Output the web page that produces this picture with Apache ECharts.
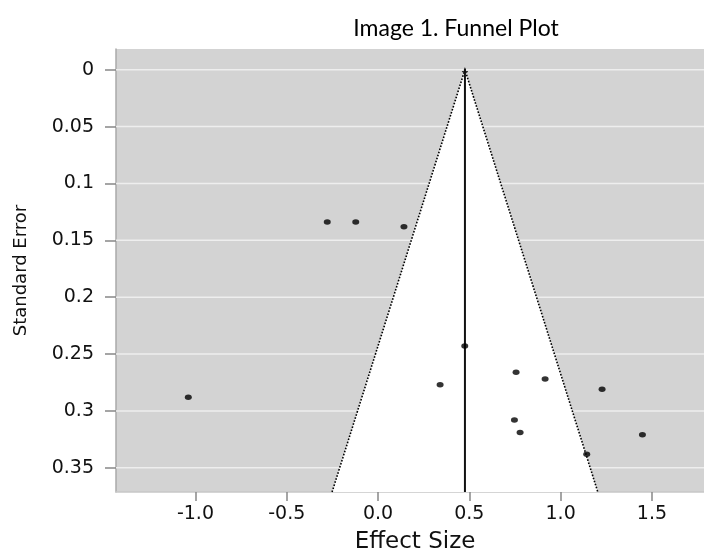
<!DOCTYPE html>
<html>
<head>
<meta charset="utf-8">
<title>Funnel Plot</title>
<script src="https://cdn.jsdelivr.net/npm/echarts@6/dist/echarts.min.js"></script>
<style>
  html, body { margin: 0; padding: 0; background: #fff; }
  #chart { width: 704px; height: 552px; }
</style>
</head>
<body>
<div id="chart"></div>
<script>
// one entry per study
var effectSize = [-0.278, -0.122, 0.142, 0.475, 0.340, 0.756, 0.915, 1.227, -1.039, 0.747, 0.778, 1.448, 1.143];
var stdError   = [0.134, 0.134, 0.138, 0.243, 0.277, 0.266, 0.272, 0.281, 0.288, 0.308, 0.319, 0.321, 0.338];

// pooled estimate and the funnel limits (95%)
var pooledEffect = 0.476;
var seMax = 0.3713;
var z95 = 1.96;

var xTicks = [-1, -0.5, 0, 0.5, 1, 1.5];
var yTicks = [0, 0.05, 0.1, 0.15, 0.2, 0.25, 0.3, 0.35];

var labelFont = 'DejaVu Sans';

var chart = echarts.init(document.getElementById('chart'));

chart.setOption({
  animation: false,
  title: {
    text: 'Image 1. Funnel Plot',
    left: 451,
    top: 12,
    textAlign: 'center',
    textStyle: { fontFamily: 'Lato', fontSize: 23, fontWeight: 'normal', color: '#000' }
  },
  grid: {
    left: 116, right: -10, top: 49, bottom: 60,
    show: true, backgroundColor: '#d3d3d3', borderWidth: 0,
    outerBoundsMode: 'none'
  },
  xAxis: {
    type: 'value',
    min: -1.435, max: 1.84,
    name: 'Effect Size',
    nameLocation: 'middle',
    nameGap: 39,
    nameTextStyle: { fontFamily: labelFont, fontSize: 23, color: '#111' },
    axisLine: { show: true, onZero: false, lineStyle: { color: '#c8c8c8', width: 1.5 } },
    axisTick: { show: true, customValues: xTicks, length: 9, lineStyle: { color: '#888', width: 1.5 } },
    axisLabel: {
      customValues: xTicks,
      margin: 13,
      fontFamily: labelFont, fontSize: 19, color: '#111',
      formatter: function (v) { return v.toFixed(1); }
    },
    splitLine: { show: false }
  },
  yAxis: {
    type: 'value',
    inverse: true,
    min: -0.0182, max: seMax,
    name: 'Standard Error',
    nameLocation: 'middle',
    nameGap: 86,
    nameTextStyle: { fontFamily: labelFont, fontSize: 18, color: '#111' },
    axisLine: { show: true, onZero: false, lineStyle: { color: '#aaa', width: 1.5 } },
    axisTick: { show: true, customValues: yTicks, length: 11, lineStyle: { color: '#888', width: 1.5 } },
    axisLabel: {
      customValues: yTicks,
      margin: 22,
      fontFamily: labelFont, fontSize: 19, color: '#111',
      formatter: function (v) { return String(+v.toFixed(2)); }
    },
    splitLine: { show: false }
  },
  series: [
    {
      // horizontal grid lines at the y ticks
      type: 'custom',
      silent: true,
      z: 1,
      data: yTicks.map(function (v) { return [0, v]; }),
      renderItem: function (params, api) {
        var y = api.coord([0, api.value(1)])[1];
        var cs = params.coordSys;
        return {
          type: 'line',
          shape: { x1: cs.x, y1: y, x2: cs.x + cs.width, y2: y },
          style: { stroke: '#eeeeee', lineWidth: 1.5 }
        };
      }
    },
    {
      // funnel: white region, dotted limits, vertical line at pooled effect
      type: 'custom',
      silent: true,
      z: 2,
      data: [[pooledEffect, seMax]],
      renderItem: function (params, api) {
        var c = api.value(0), s = api.value(1);
        var apex = api.coord([c, 0]);
        var left = api.coord([c - z95 * s, s]);
        var right = api.coord([c + z95 * s, s]);
        return {
          type: 'group',
          children: [
            { type: 'polygon', shape: { points: [left, apex, right] }, style: { fill: '#fff' } },
            { type: 'polyline', shape: { points: [left, apex, right] },
              style: { fill: null, stroke: '#000', lineWidth: 1.6, lineDash: [1.6, 1.6] } },
            { type: 'line', shape: { x1: apex[0], y1: apex[1] - 1, x2: apex[0], y2: left[1] },
              style: { stroke: '#111', lineWidth: 2 } },
            { type: 'line', shape: { x1: apex[0] - 3, y1: apex[1] + 2, x2: apex[0] + 3, y2: apex[1] + 2 },
              style: { stroke: '#111', lineWidth: 1 } }
          ]
        };
      }
    },
    {
      type: 'scatter',
      z: 3,
      symbol: 'circle',
      symbolSize: [7, 5.5],
      itemStyle: { color: '#000' },
      data: effectSize.map(function (x, i) { return [x, stdError[i]]; })
    }
  ]
});
</script>
</body>
</html>
